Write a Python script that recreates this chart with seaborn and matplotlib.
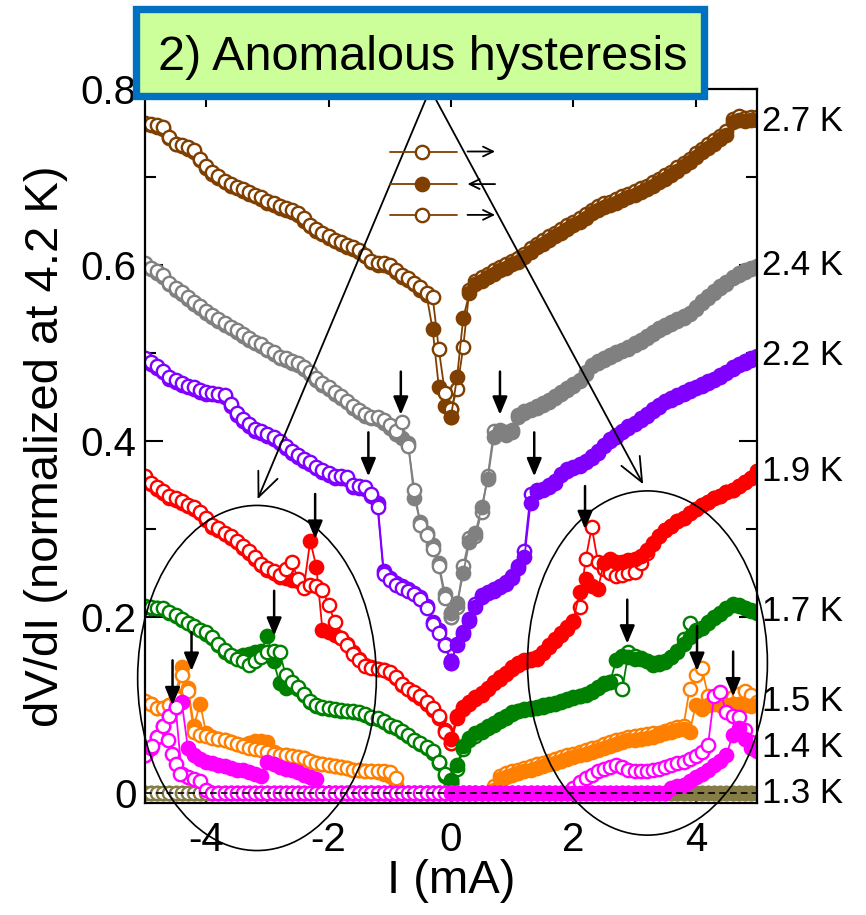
import numpy as np
import matplotlib
matplotlib.use("Agg")
import matplotlib.pyplot as plt
from matplotlib.patches import Ellipse, Rectangle
import seaborn as sns

# ---------------------------------------------------------------------------
# Data: differential resistance dV/dI (normalised at 4.2 K) versus bias current
# Open symbols: up-sweep, filled symbols: down-sweep.
# ---------------------------------------------------------------------------
current = np.round(np.linspace(-5.0, 5.0, 101), 2)   # mA, step 0.1

temperatures = ["2.7 K", "2.4 K", "2.2 K", "1.9 K", "1.7 K", "1.5 K", "1.3 K", "1.4 K"]
colors = ["#7F3F00", "#808080", "#7F00FF", "#FF0000", "#008000", "#FF8000", "#857D45", "#FF00FF"]

t27_up = [
    0.761, 0.760, 0.759, 0.757, 0.745, 0.738, 0.736, 0.734, 0.731, 0.720,
    0.712, 0.706, 0.701, 0.696, 0.692, 0.689, 0.686, 0.683, 0.680, 0.677,
    0.673, 0.670, 0.667, 0.665, 0.662, 0.659, 0.653, 0.646, 0.641, 0.637,
    0.633, 0.629, 0.626, 0.623, 0.620, 0.617, 0.612, 0.605, 0.602, 0.602,
    0.600, 0.594, 0.589, 0.585, 0.580, 0.575, 0.568, 0.564, 0.505, 0.455,
    0.436, 0.459, 0.507, 0.572, 0.582, 0.586, 0.590, 0.594, 0.598, 0.601,
    0.605, 0.608, 0.613, 0.619, 0.624, 0.628, 0.633, 0.637, 0.641, 0.645,
    0.649, 0.653, 0.658, 0.663, 0.667, 0.670, 0.672, 0.675, 0.678, 0.681,
    0.684, 0.687, 0.690, 0.694, 0.698, 0.702, 0.706, 0.711, 0.716, 0.721,
    0.727, 0.732, 0.737, 0.742, 0.747, 0.752, 0.766, 0.769, 0.767, 0.768,
    0.768]
t27_down = [
    0.760, 0.759, 0.757, 0.755, 0.744, 0.737, 0.735, 0.732, 0.729, 0.719,
    0.710, 0.704, 0.699, 0.694, 0.690, 0.687, 0.684, 0.681, 0.678, 0.675,
    0.671, 0.668, 0.665, 0.663, 0.660, 0.657, 0.650, 0.644, 0.639, 0.635,
    0.631, 0.627, 0.624, 0.621, 0.618, 0.615, 0.610, 0.603, 0.600, 0.600,
    0.598, 0.592, 0.587, 0.583, 0.578, 0.572, 0.566, 0.527, 0.462, 0.440,
    0.428, 0.473, 0.540, 0.568, 0.578, 0.582, 0.586, 0.590, 0.594, 0.597,
    0.601, 0.604, 0.609, 0.615, 0.620, 0.624, 0.629, 0.633, 0.637, 0.641,
    0.645, 0.649, 0.654, 0.659, 0.663, 0.666, 0.668, 0.671, 0.674, 0.677,
    0.680, 0.683, 0.686, 0.690, 0.694, 0.698, 0.702, 0.707, 0.712, 0.717,
    0.723, 0.728, 0.733, 0.738, 0.743, 0.748, 0.762, 0.765, 0.764, 0.765,
    0.765]

t24_up = [
    0.602, 0.597, 0.593, 0.589, 0.580, 0.574, 0.569, 0.564, 0.558, 0.553,
    0.548, 0.543, 0.539, 0.534, 0.530, 0.526, 0.522, 0.517, 0.513, 0.510,
    0.505, 0.501, 0.496, 0.494, 0.491, 0.489, 0.484, 0.478, 0.472, 0.466,
    0.461, 0.456, 0.451, 0.446, 0.440, 0.435, 0.431, 0.428, 0.427, 0.424,
    0.418, 0.412, 0.422, 0.395, 0.345, 0.305, 0.293, 0.278, 0.258, 0.222,
    0.200, 0.212, 0.258, 0.290, 0.292, 0.320, 0.360, 0.411, 0.413, 0.410,
    0.413, 0.430, 0.434, 0.437, 0.440, 0.443, 0.447, 0.451, 0.456, 0.460,
    0.465, 0.470, 0.478, 0.487, 0.491, 0.494, 0.498, 0.501, 0.504, 0.507,
    0.511, 0.515, 0.519, 0.524, 0.528, 0.532, 0.535, 0.539, 0.542, 0.546,
    0.552, 0.559, 0.565, 0.570, 0.576, 0.581, 0.587, 0.591, 0.594, 0.597,
    0.599]
t24_down = [
    0.600, 0.595, 0.591, 0.587, 0.578, 0.572, 0.567, 0.562, 0.556, 0.551,
    0.546, 0.541, 0.537, 0.532, 0.528, 0.524, 0.520, 0.515, 0.511, 0.508,
    0.503, 0.499, 0.494, 0.492, 0.489, 0.487, 0.482, 0.476, 0.470, 0.464,
    0.459, 0.454, 0.449, 0.444, 0.438, 0.433, 0.429, 0.426, 0.425, 0.421,
    0.415, 0.408, 0.404, 0.398, 0.336, 0.308, 0.296, 0.282, 0.262, 0.226,
    0.205, 0.216, 0.250, 0.286, 0.296, 0.325, 0.357, 0.405, 0.410, 0.407,
    0.410, 0.428, 0.432, 0.435, 0.438, 0.441, 0.445, 0.449, 0.454, 0.458,
    0.463, 0.468, 0.476, 0.485, 0.489, 0.492, 0.496, 0.499, 0.502, 0.505,
    0.509, 0.513, 0.517, 0.522, 0.526, 0.530, 0.533, 0.537, 0.540, 0.544,
    0.550, 0.557, 0.563, 0.568, 0.574, 0.579, 0.585, 0.589, 0.592, 0.595,
    0.597]

t22_up = [
    0.495, 0.490, 0.485, 0.480, 0.473, 0.469, 0.466, 0.463, 0.461, 0.458,
    0.456, 0.455, 0.454, 0.452, 0.442, 0.432, 0.425, 0.419, 0.414, 0.411,
    0.408, 0.405, 0.400, 0.394, 0.389, 0.384, 0.380, 0.376, 0.371, 0.367,
    0.364, 0.360, 0.360, 0.359, 0.350, 0.349, 0.348, 0.340, 0.325, 0.249,
    0.242, 0.237, 0.233, 0.230, 0.226, 0.221, 0.211, 0.192, 0.182, 0.168,
    0.148, 0.170, 0.183, 0.198, 0.215, 0.225, 0.229, 0.232, 0.236, 0.240,
    0.247, 0.258, 0.275, 0.340, 0.344, 0.346, 0.350, 0.355, 0.363, 0.368,
    0.371, 0.374, 0.378, 0.383, 0.389, 0.396, 0.402, 0.407, 0.412, 0.417,
    0.421, 0.426, 0.431, 0.436, 0.441, 0.446, 0.449, 0.452, 0.456, 0.459,
    0.462, 0.465, 0.468, 0.471, 0.475, 0.479, 0.484, 0.488, 0.491, 0.494,
    0.497]
t22_down = [
    0.493, 0.488, 0.483, 0.478, 0.471, 0.467, 0.464, 0.461, 0.459, 0.456,
    0.454, 0.453, 0.452, 0.450, 0.440, 0.430, 0.423, 0.417, 0.412, 0.409,
    0.406, 0.403, 0.398, 0.392, 0.387, 0.382, 0.378, 0.374, 0.369, 0.365,
    0.362, 0.358, 0.358, 0.357, 0.348, 0.347, 0.346, 0.338, 0.330, 0.252,
    0.244, 0.239, 0.235, 0.232, 0.228, 0.223, 0.213, 0.195, 0.185, 0.170,
    0.150, 0.168, 0.181, 0.196, 0.212, 0.223, 0.227, 0.230, 0.234, 0.238,
    0.245, 0.256, 0.268, 0.330, 0.342, 0.344, 0.348, 0.353, 0.361, 0.366,
    0.369, 0.372, 0.376, 0.381, 0.387, 0.394, 0.400, 0.405, 0.410, 0.415,
    0.419, 0.424, 0.429, 0.434, 0.439, 0.444, 0.447, 0.450, 0.454, 0.457,
    0.460, 0.463, 0.466, 0.469, 0.473, 0.477, 0.482, 0.486, 0.489, 0.492,
    0.495]

t19_up = [
    0.360, 0.353, 0.348, 0.343, 0.338, 0.335, 0.332, 0.328, 0.325, 0.320,
    0.313, 0.305, 0.301, 0.296, 0.292, 0.287, 0.281, 0.275, 0.268, 0.261,
    0.256, 0.252, 0.248, 0.255, 0.263, 0.243, 0.233, 0.237, 0.236, 0.231,
    0.214, 0.195, 0.176, 0.168, 0.158, 0.151, 0.145, 0.142, 0.141, 0.140,
    0.138, 0.132, 0.124, 0.119, 0.115, 0.110, 0.104, 0.097, 0.088, 0.070,
    0.057, 0.085, 0.096, 0.102, 0.107, 0.112, 0.118, 0.125, 0.130, 0.135,
    0.141, 0.146, 0.149, 0.151, 0.153, 0.159, 0.166, 0.173, 0.180, 0.187,
    0.195, 0.212, 0.266, 0.302, 0.263, 0.255, 0.250, 0.247, 0.248, 0.250,
    0.251, 0.262, 0.273, 0.283, 0.292, 0.299, 0.304, 0.309, 0.313, 0.318,
    0.323, 0.327, 0.331, 0.335, 0.338, 0.342, 0.345, 0.349, 0.354, 0.358,
    0.366]
t19_down = [
    0.358, 0.351, 0.346, 0.341, 0.336, 0.333, 0.330, 0.326, 0.323, 0.318,
    0.311, 0.303, 0.299, 0.294, 0.290, 0.285, 0.279, 0.273, 0.266, 0.259,
    0.254, 0.250, 0.246, 0.244, 0.242, 0.241, 0.236, 0.287, 0.257, 0.185,
    0.183, 0.180, 0.176, 0.170, 0.160, 0.152, 0.146, 0.143, 0.141, 0.140,
    0.137, 0.131, 0.123, 0.118, 0.113, 0.108, 0.102, 0.095, 0.086, 0.072,
    0.062, 0.088, 0.098, 0.104, 0.109, 0.114, 0.120, 0.127, 0.132, 0.137,
    0.143, 0.148, 0.151, 0.153, 0.155, 0.161, 0.168, 0.175, 0.182, 0.189,
    0.196, 0.229, 0.243, 0.236, 0.232, 0.262, 0.266, 0.263, 0.263, 0.265,
    0.266, 0.270, 0.276, 0.284, 0.292, 0.299, 0.304, 0.309, 0.313, 0.318,
    0.323, 0.327, 0.331, 0.335, 0.338, 0.342, 0.345, 0.349, 0.354, 0.358,
    0.366]

t17_up = [
    0.213, 0.212, 0.211, 0.210, 0.206, 0.202, 0.198, 0.194, 0.190, 0.186,
    0.183, 0.178, 0.170, 0.163, 0.157, 0.153, 0.150, 0.146, 0.150, 0.155,
    0.161, 0.162, 0.160, 0.134, 0.126, 0.121, 0.113, 0.105, 0.100, 0.098,
    0.097, 0.096, 0.095, 0.094, 0.093, 0.092, 0.090, 0.087, 0.085, 0.082,
    0.078, 0.075, 0.071, 0.066, 0.061, 0.057, 0.053, 0.048, 0.036, 0.022,
    0.012, 0.028, 0.050, 0.060, 0.065, 0.070, 0.074, 0.078, 0.082, 0.086,
    0.090, 0.093, 0.095, 0.096, 0.097, 0.098, 0.100, 0.102, 0.104, 0.106,
    0.108, 0.110, 0.112, 0.115, 0.120, 0.124, 0.126, 0.128, 0.119, 0.160,
    0.156, 0.154, 0.150, 0.146, 0.147, 0.149, 0.155, 0.162, 0.175, 0.193,
    0.186, 0.188, 0.195, 0.200, 0.205, 0.210, 0.215, 0.214, 0.211, 0.208,
    0.206]
t17_down = [
    0.212, 0.211, 0.210, 0.209, 0.205, 0.201, 0.197, 0.193, 0.189, 0.185,
    0.181, 0.176, 0.168, 0.161, 0.156, 0.155, 0.157, 0.158, 0.161, 0.162,
    0.179, 0.150, 0.125, 0.120, 0.122, 0.119, 0.112, 0.104, 0.099, 0.097,
    0.096, 0.095, 0.094, 0.093, 0.092, 0.091, 0.089, 0.086, 0.084, 0.081,
    0.077, 0.074, 0.070, 0.065, 0.060, 0.056, 0.052, 0.046, 0.034, 0.020,
    0.015, 0.032, 0.054, 0.063, 0.068, 0.072, 0.076, 0.080, 0.084, 0.088,
    0.092, 0.094, 0.096, 0.097, 0.098, 0.100, 0.101, 0.103, 0.105, 0.107,
    0.109, 0.111, 0.113, 0.116, 0.121, 0.125, 0.127, 0.151, 0.156, 0.155,
    0.153, 0.152, 0.150, 0.148, 0.149, 0.150, 0.155, 0.161, 0.170, 0.178,
    0.184, 0.188, 0.194, 0.199, 0.204, 0.209, 0.214, 0.213, 0.210, 0.207,
    0.205]

t15_up = [
    0.105, 0.102, 0.097, 0.097, 0.100, 0.108, 0.134, 0.116, 0.070, 0.066,
    0.065, 0.063, 0.062, 0.060, 0.058, 0.056, 0.054, 0.052, 0.050, 0.049,
    0.047, 0.045, 0.044, 0.043, 0.042, 0.041, 0.040, 0.037, 0.034, 0.033,
    0.032, 0.031, 0.030, 0.029, 0.027, 0.026, 0.025, 0.025, 0.025, 0.025,
    0.024, 0.017, 0.000, 0.000, 0.000, 0.000, 0.000, 0.000, 0.000, 0.000,
    0.000, 0.000, 0.000, 0.000, 0.000, 0.000, 0.000, 0.008, 0.020, 0.023,
    0.025, 0.027, 0.029, 0.031, 0.033, 0.035, 0.037, 0.039, 0.041, 0.043,
    0.045, 0.047, 0.049, 0.051, 0.053, 0.056, 0.058, 0.060, 0.062, 0.064,
    0.065, 0.066, 0.067, 0.068, 0.069, 0.071, 0.073, 0.075, 0.077, 0.119,
    0.134, 0.142, 0.111, 0.106, 0.105, 0.107, 0.109, 0.113, 0.116, 0.112,
    0.104]
t15_down = [
    0.104, 0.101, 0.097, 0.097, 0.100, 0.112, 0.144, 0.120, 0.077, 0.102,
    0.068, 0.064, 0.062, 0.060, 0.058, 0.056, 0.055, 0.057, 0.059, 0.059,
    0.058, 0.047, 0.044, 0.043, 0.042, 0.041, 0.040, 0.037, 0.034, 0.033,
    0.032, 0.031, 0.030, 0.029, 0.027, 0.026, 0.025, 0.025, 0.024, 0.022,
    0.020, 0.010, 0.000, 0.000, 0.000, 0.000, 0.000, 0.000, 0.000, 0.000,
    0.000, 0.000, 0.000, 0.000, 0.000, 0.000, 0.000, 0.004, 0.016, 0.019,
    0.021, 0.023, 0.025, 0.027, 0.029, 0.031, 0.033, 0.035, 0.037, 0.039,
    0.041, 0.043, 0.045, 0.047, 0.049, 0.052, 0.054, 0.056, 0.058, 0.060,
    0.061, 0.062, 0.063, 0.064, 0.066, 0.068, 0.070, 0.072, 0.073, 0.070,
    0.100, 0.096, 0.100, 0.102, 0.100, 0.100, 0.102, 0.101, 0.100, 0.099,
    0.100]

t14_up = [
    0.043, 0.052, 0.064, 0.076, 0.088, 0.098, 0.022, 0.018, 0.016, 0.014,
    0.004, 0.000, 0.000, 0.000, 0.000, 0.000, 0.000, 0.000, 0.000, 0.000,
    0.000, 0.000, 0.000, 0.000, 0.000, 0.000, 0.000, 0.000, 0.000, 0.000,
    0.000, 0.000, 0.000, 0.000, 0.000, 0.000, 0.000, 0.000, 0.000, 0.000,
    0.000, 0.000, 0.000, 0.000, 0.000, 0.000, 0.000, 0.000, 0.000, 0.000,
    0.000, 0.000, 0.000, 0.000, 0.000, 0.000, 0.000, 0.000, 0.000, 0.000,
    0.000, 0.000, 0.000, 0.000, 0.000, 0.000, 0.000, 0.000, 0.000, 0.000,
    0.006, 0.013, 0.017, 0.021, 0.025, 0.028, 0.030, 0.032, 0.030, 0.027,
    0.025, 0.025, 0.025, 0.026, 0.028, 0.030, 0.032, 0.034, 0.036, 0.039,
    0.042, 0.047, 0.055, 0.111, 0.115, 0.092, 0.088, 0.087, 0.072, 0.058,
    0.052]
t14_down = [
    0.043, 0.052, 0.064, 0.076, 0.088, 0.098, 0.104, 0.052, 0.043, 0.039,
    0.036, 0.034, 0.032, 0.031, 0.029, 0.027, 0.026, 0.024, 0.022, 0.020,
    0.036, 0.033, 0.030, 0.028, 0.026, 0.024, 0.021, 0.019, 0.016, 0.000,
    0.000, 0.000, 0.000, 0.000, 0.000, 0.000, 0.000, 0.000, 0.000, 0.000,
    0.000, 0.000, 0.000, 0.000, 0.000, 0.000, 0.000, 0.000, 0.000, 0.000,
    0.000, 0.000, 0.000, 0.000, 0.000, 0.000, 0.000, 0.000, 0.000, 0.000,
    0.000, 0.000, 0.000, 0.000, 0.000, 0.000, 0.000, 0.000, 0.000, 0.000,
    0.000, 0.000, 0.000, 0.000, 0.000, 0.000, 0.000, 0.000, 0.000, 0.000,
    0.000, 0.000, 0.000, 0.000, 0.000, 0.000, 0.006, 0.008, 0.010, 0.014,
    0.018, 0.022, 0.027, 0.032, 0.037, 0.043, 0.066, 0.074, 0.062, 0.052,
    0.048]
# second up-sweep branch of the 1.4 K curve near -4.5 mA
t14_branch_current = [-4.88, -4.62, -4.56, -4.50, -4.42]
t14_branch_value = [0.054, 0.060, 0.045, 0.033, 0.022]

t13_up = [
    0, 0, 0, 0, 0, 0, 0, 0, 0, 0, 0, 0, 0, 0, 0, 0, 0, 0, 0, 0,
    0, 0, 0, 0, 0, 0, 0, 0, 0, 0, 0, 0, 0, 0, 0, 0, 0, 0, 0, 0,
    0, 0, 0, 0, 0, 0, 0, 0, 0, 0, 0, 0, 0, 0, 0, 0, 0, 0, 0, 0,
    0, 0, 0, 0, 0, 0, 0, 0, 0, 0, 0, 0, 0, 0, 0, 0, 0, 0, 0, 0,
    0, 0, 0, 0, 0, 0, 0, 0, 0, 0, 0, 0, 0, 0, 0, 0, 0, 0, 0, 0,
    0]
t13_down = [
    0, 0, 0, 0, 0, 0, 0, 0, 0, 0, 0, 0, 0, 0, 0, 0, 0, 0, 0, 0,
    0, 0, 0, 0, 0, 0, 0, 0, 0, 0, 0, 0, 0, 0, 0, 0, 0, 0, 0, 0,
    0, 0, 0, 0, 0, 0, 0, 0, 0, 0, 0, 0, 0, 0, 0, 0, 0, 0, 0, 0,
    0, 0, 0, 0, 0, 0, 0, 0, 0, 0, 0, 0, 0, 0, 0, 0, 0, 0, 0, 0,
    0, 0, 0, 0, 0, 0, 0, 0, 0, 0, 0, 0, 0, 0, 0, 0, 0, 0, 0, 0,
    0]

up_sweeps = [t27_up, t24_up, t22_up, t19_up, t17_up, t15_up, t13_up, t14_up]
down_sweeps = [t27_down, t24_down, t22_down, t19_down, t17_down, t15_down, t13_down, t14_down]

# markers of switching events (current in mA, top and bottom of arrow)
switch_current = [-0.82, 0.80, -1.35, 1.36, -2.22, 2.19, -2.89, 2.88, -4.24, 4.02, -4.55, 4.61]
switch_top = [0.479, 0.479, 0.410, 0.410, 0.340, 0.349, 0.230, 0.220, 0.183, 0.190, 0.151, 0.161]
switch_bottom = [0.430, 0.430, 0.360, 0.360, 0.289, 0.300, 0.179, 0.170, 0.139, 0.139, 0.100, 0.110]

x_tick_values = [-4, -2, 0, 2, 4]
x_tick_labels = ["-4", "-2", "0", "2", "4"]
y_tick_values = [0.0, 0.2, 0.4, 0.6, 0.8]
y_tick_labels = ["0", "0.2", "0.4", "0.6", "0.8"]

# ---------------------------------------------------------------------------
sns.set_style("ticks")
plt.rcParams["font.family"] = ["Liberation Sans", "DejaVu Sans"]
plt.rcParams["axes.unicode_minus"] = False
for key in ["text.color", "axes.labelcolor", "xtick.color", "ytick.color",
            "xtick.labelcolor", "ytick.labelcolor", "axes.edgecolor"]:
    plt.rcParams[key] = "black"

W, H = 866, 915
fig = plt.figure(figsize=(W / 100, H / 100), dpi=100)
ax = fig.add_axes([145 / W, 1 - 803 / H, (757 - 145) / W, (803 - 89) / H])
ax.set_facecolor("white")

MS, MEW, LW = 9.6, 1.7, 1.3


def sweep(x, y, color, filled, z):
    sns.lineplot(x=x, y=y, ax=ax, color=color, lw=LW, marker="o", ms=MS, mew=MEW,
                 mec=color, mfc=color if filled else "white",
                 estimator=None, sort=False, legend=False, zorder=z)


x_all = np.asarray(current)
left = slice(0, 51)
right = slice(50, 101)
for k, (col, up, dn) in enumerate(zip(colors, up_sweeps, down_sweeps)):
    z = 2 + 2 * k
    up = np.asarray(up, dtype=float)
    dn = np.asarray(dn, dtype=float)
    # negative bias: open symbols on top; positive bias: filled symbols on top
    sweep(x_all[left], dn[left], col, True, z)
    sweep(x_all[left], up[left], col, False, z + 0.5)
    sweep(x_all[right], up[right], col, False, z)
    sweep(x_all[right], dn[right], col, True, z + 0.5)
    if temperatures[k] == "1.4 K":
        sweep(t14_branch_current, t14_branch_value, col, False, z + 0.6)

# zero-resistance reference
ax.axhline(0, color="black", lw=1.2, ls=(0, (4, 2.5)), zorder=40)

# temperature labels at the right-hand end of each curve
for k, lab in enumerate(temperatures):
    ax.text(5.08, up_sweeps[k][-1] - (0.005 if k == 0 else 0), lab, fontsize=25,
            color="black", ha="left", va="center", clip_on=False)

# switching arrows
for xs, yt, yb in zip(switch_current, switch_top, switch_bottom):
    ax.annotate("", xy=(xs, yb), xytext=(xs, yt),
                arrowprops=dict(arrowstyle="-|>,head_length=0.6,head_width=0.25",
                                mutation_scale=18, lw=1.8, color="black",
                                shrinkA=0, shrinkB=0), zorder=45)

# highlighted regions and pointers from the title
ax.add_patch(Ellipse((-3.17, 0.131), 3.90, 0.392, fill=False, ec="black", lw=1.2,
                     clip_on=False, zorder=45))
ax.add_patch(Ellipse((3.21, 0.148), 3.92, 0.391, fill=False, ec="black", lw=1.2,
                     clip_on=False, zorder=45))
for tip in [(-3.16, 0.334), (3.14, 0.351)]:
    ax.annotate("", xy=tip, xytext=(-0.34, 0.80), annotation_clip=False,
                arrowprops=dict(arrowstyle="->,head_length=0.7,head_width=0.3",
                                mutation_scale=25, lw=1.3, color="black",
                                shrinkA=0, shrinkB=0), zorder=45)

# sweep-direction key
key_levels = [0.729, 0.692, 0.657]
key_filled = [False, True, False]
key_dir = [1, -1, 1]
for yk, fk, dk in zip(key_levels, key_filled, key_dir):
    sns.lineplot(x=[-0.99, 0.09], y=[yk, yk], ax=ax, color=colors[0], lw=LW,
                 estimator=None, sort=False, legend=False, zorder=46)
    sweep([-0.47], [yk], colors[0], fk, 47)
    xa, xb = (0.27, 0.72) if dk > 0 else (0.72, 0.27)
    ax.annotate("", xy=(xb, yk), xytext=(xa, yk),
                arrowprops=dict(arrowstyle="->,head_length=0.45,head_width=0.22",
                                mutation_scale=16, lw=1.3, color="black",
                                shrinkA=0, shrinkB=0), zorder=47)

# axes styling
ax.set_xlim(-5, 5)
ax.set_ylim(-0.011, 0.80)
ax.set_xticks(x_tick_values)
ax.set_xticklabels(x_tick_labels)
ax.set_xticks([-3, -1, 1, 3], minor=True)
ax.set_yticks(y_tick_values)
ax.set_yticklabels(y_tick_labels)
ax.set_yticks([0.1, 0.3, 0.5, 0.7], minor=True)
ax.tick_params(which="both", direction="in", top=True, right=True, width=1.5,
               colors="black", labelcolor="black", labelsize=29)
ax.tick_params(which="major", length=13)
ax.tick_params(which="minor", length=8)
ax.tick_params(axis="y", pad=6)
ax.tick_params(axis="x", pad=13)
for s in ax.spines.values():
    s.set_linewidth(1.6)
    s.set_color("black")
    s.set_zorder(50)

ax.set_xlabel("I (mA)", fontsize=34, labelpad=0, color="black")
ax.set_ylabel("dV/dI (normalized at 4.2 K)", fontsize=34, labelpad=9, color="black")

# title banner
fig.add_artist(Rectangle((135.7 / W, 1 - 96.3 / H), (704.3 - 135.7) / W, (96.3 - 9.2) / H,
                         transform=fig.transFigure, facecolor="#CCFF99",
                         edgecolor="#0070C0", lw=5.3, zorder=60))
fig.text(158 / W, 1 - 70 / H, "2) Anomalous hysteresis", fontsize=35, ha="left",
         va="baseline", color="black", zorder=61)

fig.savefig("out.png", dpi=100)
